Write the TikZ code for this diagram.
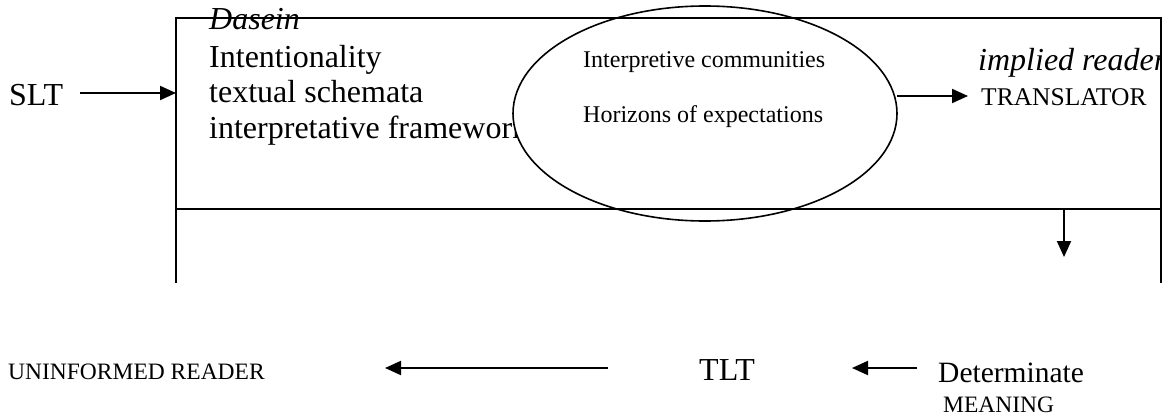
\documentclass[tikz,border=0pt]{standalone}
\usepackage{fontspec}
\setmainfont{Liberation Serif}
\usetikzlibrary{arrows.meta,shapes.geometric}
\begin{document}
\begin{tikzpicture}[x=1pt,y=-1pt,
  lbl/.style={inner sep=0pt,anchor=base west},
  bigtxt/.style={lbl,font=\fontsize{32}{37}\selectfont},
  smalltxt/.style={lbl,font=\fontsize{24}{28}\selectfont},
  arr/.style={line width=2pt,-{Triangle[length=16pt,width=14pt]}},
  frame/.style={line width=2pt},
  oval/.style={line width=1.6pt,fill=white}]
\useasboundingbox (0,0) rectangle (1169,415);
% texts inside the frame
\node[bigtxt,font=\fontsize{32}{37}\selectfont\itshape] (dasein) at (209,29) {Dasein};
\node[bigtxt] (intent) at (209,67) {Intentionality};
\node[bigtxt] (schem) at (209,102) {textual schemata};
\node[bigtxt] (frame) at (209,138) {interpretative framework};
\begin{scope}
\clip (900,0) rectangle (1161,200);
\node[bigtxt,font=\fontsize{32}{37}\selectfont\itshape] (implied) at (978,70) {implied reader};
\end{scope}
% ellipse
\node[oval,draw,ellipse,minimum width=384pt,minimum height=215pt,inner sep=0pt] (ell) at (705,113.5) {};
\node[smalltxt] (icomm) at (583,67) {Interpretive communities};
\node[smalltxt] (horiz) at (583,122) {Horizons of expectations};
% frame
\coordinate (tl) at (176,18);
\coordinate (tr) at (1161,18);
\coordinate (ml) at (176,209);
\coordinate (mr) at (1161,209);
\coordinate (bl) at (176,283);
\coordinate (br) at (1161,283);
\draw[frame] (bl) -- (tl) -- (tr) -- (br);
\draw[frame] (ml) -- (mr);
% outside labels
\node[bigtxt] (slt) at (9,105) {SLT};
\node[lbl,font=\fontsize{25.5}{30}\selectfont] (trans) at (981,105) {TRANSLATOR};
\node[lbl,font=\fontsize{23.5}{28}\selectfont] (unin) at (8,379) {UNINFORMED READER};
\node[bigtxt] (tlt) at (699,380) {TLT};
\node[lbl,font=\fontsize{29.5}{34}\selectfont] (det) at (938,382) {Determinate};
\node[lbl,font=\fontsize{23.5}{28}\selectfont] (mean) at (943,412) {MEANING};
% connectors
\coordinate (sltin) at (176,93);
\draw[arr] (slt.east |- sltin) ++(17,0) -- (sltin);
\coordinate (ellout) at (897,96);
\coordinate (transin) at (968,96);
\draw[arr] (ellout) -- (transin);
\coordinate (downs) at (1064,209);
\coordinate (downe) at (1064,257);
\draw[arr] (downs) -- (downe);
\coordinate (la) at (608,368);
\coordinate (lb) at (385,368);
\draw[arr] (la) -- (lb);
\coordinate (ra) at (917,368);
\coordinate (rb) at (852,368);
\draw[arr] (ra) -- (rb);
\end{tikzpicture}
\end{document}
